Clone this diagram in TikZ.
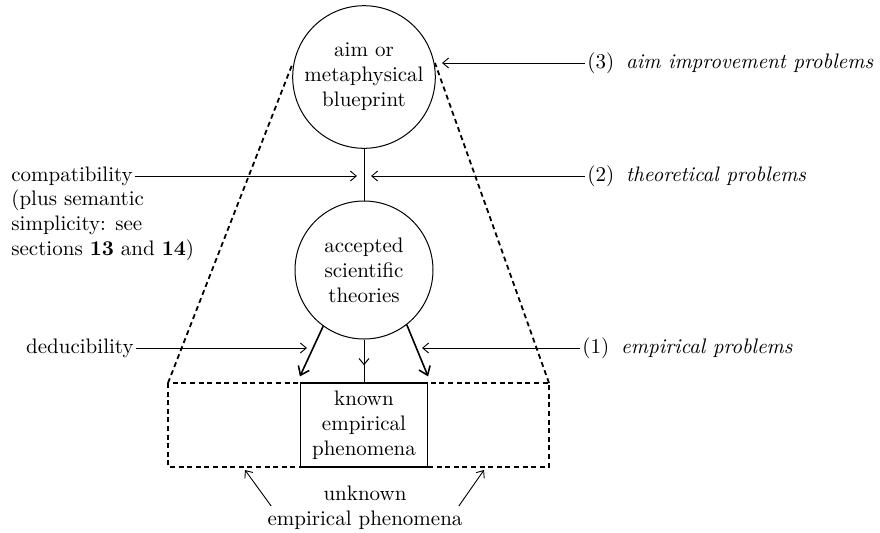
\documentclass[tikz,border=0pt]{standalone}
\usepackage{tikz}
\usetikzlibrary{arrows.meta,calc}

\begin{document}
\begin{tikzpicture}[x=0.5pt,y=-0.5pt,
    every node/.style={font=\fontsize{10.5}{12.5}\selectfont,inner sep=1pt},
    circ/.style={circle,draw,line width=0.5pt,minimum size=69pt,align=center},
    phenbox/.style={draw,line width=0.6pt,minimum width=63.5pt,minimum height=42pt,align=center},
    arr/.style={-{Straight Barb[length=3pt,width=5pt]},line width=0.45pt},
    bigarr/.style={-{Straight Barb[length=4pt,width=6pt]},line width=0.8pt},
    dsh/.style={line width=0.9pt,dash pattern=on 2.5pt off 1.8pt}]
    \useasboundingbox (0,0) rectangle (880,532);

    % the two circles and the box
    \node[circ] (aim) at (364,77) {aim or\\metaphysical\\blueprint};
    \node[circ] (theories) at (364,270) {accepted\\scientific\\theories};
    \node[phenbox] (known) at (364,425) {known\\empirical\\phenomena};
    \draw[line width=0.5pt] (aim) -- (theories);

    % dashed region
    \coordinate (dl) at (168,383);
    \coordinate (dr) at (549,467);
    \draw[dsh] (dl) rectangle (dr);
    \draw[dsh] (dl) -- (292,65);
    \draw[dsh] (549,383) -- (435,63);

    % arrows down to the known phenomena
    \draw[bigarr] (theories.234) -- ([yshift=3pt]known.north west);
    \draw[bigarr] (theories.308) -- ([yshift=3pt]known.north east);
    \draw[arr,line width=0.5pt] (theories.south) -- ($(theories.south)!0.6!(known.north)$);
    \draw[line width=0.5pt] (theories.south) -- (known.north);

    % left labels
    \node[anchor=west] (compat) at (9,176) {compatibility};
    \node[anchor=north west,align=left] (compatnote) at (compat.south west)
        {(plus semantic\\simplicity: see\\sections \textbf{13} and \textbf{14})};
    \node[anchor=east] (deduc) at (136,348) {deducibility};
    \coordinate (tipc) at (357,176);
    \coordinate (tipd) at (307,348);
    \draw[arr] (compat.east) -- (tipc);
    \draw[arr] (deduc.east) -- (tipd);

    % right labels
    \node[anchor=west] (prob3) at (585,63) {(3)\hspace{6pt}\textit{aim improvement problems}};
    \node[anchor=west] (prob2) at (585,176) {(2)\hspace{6pt}\textit{theoretical problems}};
    \node[anchor=west] (prob1) at (580,348) {(1)\hspace{6pt}\textit{empirical problems}};
    \coordinate (tip3) at (442,63);
    \coordinate (tip2) at (371,176);
    \coordinate (tip1) at (422,348);
    \draw[arr] (prob3.west) -- (tip3);
    \draw[arr] (prob2.west) -- (tip2);
    \draw[arr] (prob1.west) -- (tip1);

    % bottom label
    \node[align=center] (unknown) at (365,508) {unknown\\empirical phenomena};
    \coordinate (ul) at (245,470);
    \coordinate (ur) at (484,470);
    \draw[arr] ([xshift=3pt,yshift=1pt]unknown.west) -- (ul);
    \draw[arr] ([xshift=-3pt,yshift=1pt]unknown.east) -- (ur);
\end{tikzpicture}
\end{document}
